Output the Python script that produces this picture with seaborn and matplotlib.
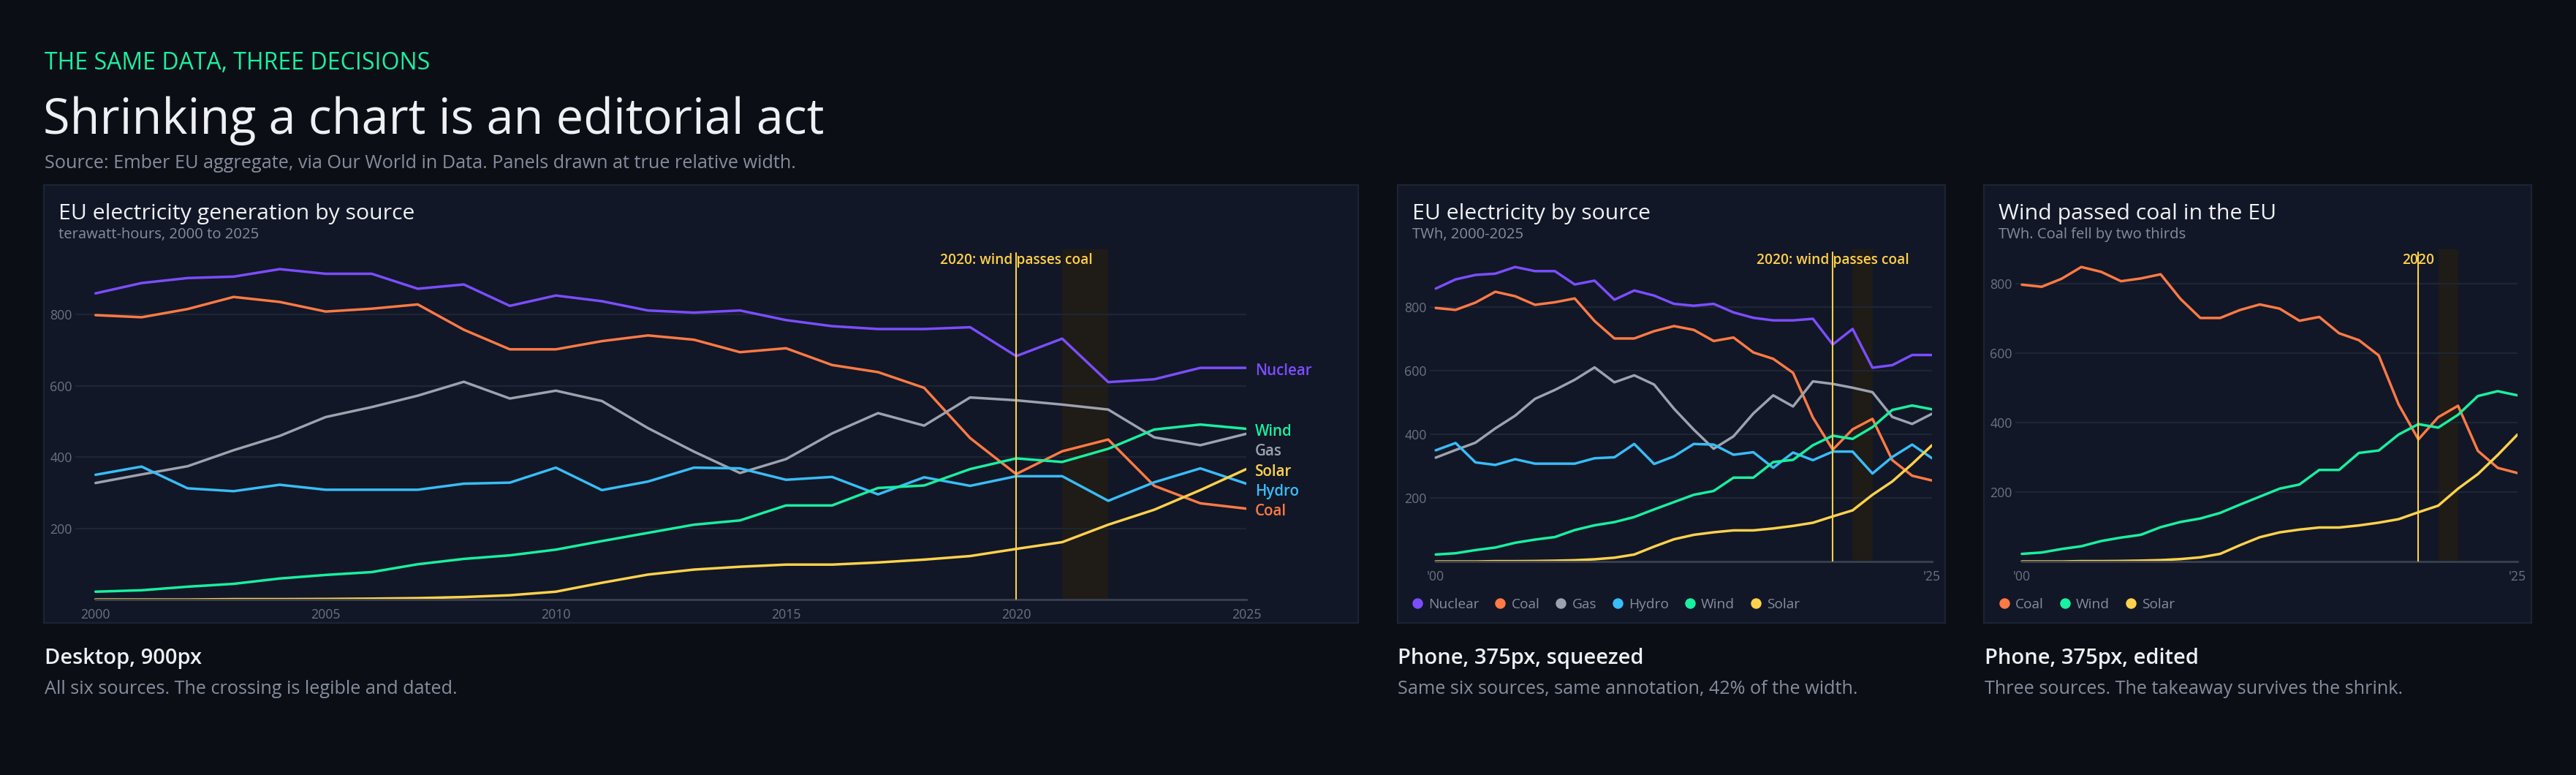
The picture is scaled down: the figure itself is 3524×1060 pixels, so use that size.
import matplotlib
matplotlib.use("Agg")
import matplotlib.pyplot as plt
from matplotlib.patches import Rectangle
from matplotlib.lines import Line2D
import seaborn as sns
import pandas as pd

# --- data (TWh, EU) ---
years = list(range(2000, 2026))
nuclear = [859, 888, 902, 906, 927, 914, 914, 872, 884, 824, 853, 837, 811, 805,
           811, 784, 767, 759, 759, 764, 683, 732, 610, 618, 650, 650]
coal = [798, 792, 815, 849, 835, 808, 816, 828, 757, 702, 702, 725, 741, 729,
        694, 705, 658, 638, 594, 453, 352, 416, 449, 319, 270, 255]
gas = [327, 351, 374, 419, 459, 512, 540, 572, 611, 564, 586, 557, 481, 415,
       355, 394, 466, 523, 488, 567, 559, 547, 533, 455, 433, 465]
hydro = [350, 373, 312, 304, 322, 308, 308, 308, 325, 328, 370, 307, 331, 370,
         368, 336, 344, 295, 343, 319, 346, 346, 277, 329, 368, 325]
wind = [22, 26, 36, 44, 59, 69, 77, 99, 114, 124, 140, 164, 187, 210,
        222, 264, 264, 313, 320, 366, 396, 386, 423, 477, 491, 479]
solar = [0, 0, 0, 1, 1, 1.5, 2.5, 4, 7, 12, 22, 47, 70, 84,
         92, 98, 98, 104, 112, 122, 142, 161, 210, 252, 307, 366]

sources = ["Nuclear", "Coal", "Gas", "Hydro", "Wind", "Solar"]
colors = ["#7c4dff", "#ff7a45", "#9ca3af", "#38bdf8", "#19f0a0", "#ffd24d"]
edited = ["Coal", "Wind", "Solar"]

crossing_year = 2020
band_years = (2021, 2022)
yticks = [200, 400, 600, 800]

df = pd.DataFrame({"year": years * 6,
                   "twh": nuclear + coal + gas + hydro + wind + solar,
                   "source": [s for s in sources for _ in years]})
palette = dict(zip(sources, colors))

# --- style ---
BG = "#0b0e15"
PANEL = "#111726"
BORDER = "#1c2332"
GRID = "#1e2534"
TICK = "#6b7280"
SUB = "#858d9d"
TITLE = "#eef0f4"
KICKER = "#1af0a0"
ANNOT = "#ffcf4a"
BAND = "#1f1b16"
AXIS = "#3a4150"

sns.set_style("dark")
plt.rcParams["font.family"] = ["Open Sans", "DejaVu Sans"]

W, H = 3524, 1060
fig = plt.figure(figsize=(W / 200, H / 200), dpi=200, facecolor=BG)


def fx(x):
    return x / W


def fy(y):
    return 1 - y / H


def panel_box(x0, x1):
    fig.patches.append(Rectangle((fx(x0), fy(852)), fx(x1 - x0), (852 - 253) / H,
                                 transform=fig.transFigure, facecolor=PANEL,
                                 edgecolor=BORDER, lw=0.8, zorder=-1))


def make_axes(left, right, top, bottom, x_lo):
    ax = fig.add_axes([fx(left), fy(bottom), fx(right - left), (bottom - top) / H])
    ax.set_facecolor("none")
    ax.set_xlim(x_lo, 2025)
    for s in ["top", "right", "left"]:
        ax.spines[s].set_visible(False)
    ax.spines["bottom"].set_color(AXIS)
    ax.spines["bottom"].set_linewidth(1.0)
    ax.spines["bottom"].set_bounds(2000, 2025)
    ax.set_yticks(yticks)
    ax.yaxis.grid(True, color=GRID, lw=0.8)
    ax.xaxis.grid(False)
    ax.tick_params(length=0, labelsize=6.4, labelcolor=TICK)
    ax.tick_params(axis="x", pad=4.5)
    ax.tick_params(axis="y", pad=1.5)
    return ax


def annotate_crossing(ax, label, frac):
    ax.axvspan(*band_years, color=BAND, lw=0, zorder=0.5)
    ax.axvline(crossing_year, ymax=0.99, color=ANNOT, lw=0.75, zorder=4)
    ax.text(crossing_year, frac, label, transform=ax.get_xaxis_transform(),
            ha="center", va="baseline", color=ANNOT, fontsize=6.9,
            fontweight="semibold", zorder=3)


# --- header ---
fig.text(fx(61), fy(95), "THE SAME DATA, THREE DECISIONS", color=KICKER,
         fontsize=11.5, va="baseline")
fig.text(fx(59), fy(183), "Shrinking a chart is an editorial act", color=TITLE,
         fontsize=24, va="baseline")
fig.text(fx(61), fy(230), "Source: Ember EU aggregate, via Our World in Data. "
         "Panels drawn at true relative width.", color=SUB, fontsize=9.1,
         va="baseline")

# --- panel 1: desktop ---
panel_box(60, 1858)
ax1 = make_axes(103, 1705, 341, 820, 1999.56)
sns.lineplot(data=df, x="year", y="twh", hue="source", hue_order=sources,
             palette=palette, lw=1.25, legend=False, ax=ax1, zorder=2)
ax1.set_ylim(0, df["twh"].max() * 1.06)
ax1.set_xticks(range(2000, 2026, 5))
ax1.set_xlabel("")
ax1.set_ylabel("")
annotate_crossing(ax1, "2020: wind passes coal", 0.958)

# end labels, pushed apart top-down so they do not collide
ends = sorted(((df[df.source == s].twh.iloc[-1], s) for s in sources), reverse=True)
prev = None
for val, s in ends:
    pos = val if prev is None else min(val, prev - 55)
    prev = pos
    ax1.annotate(s, (2025, pos), xytext=(4.3, -1.5), textcoords="offset points",
                 va="center", ha="left", color=palette[s], fontsize=7.4,
                 fontweight="semibold", annotation_clip=False)

fig.text(fx(80), fy(300), "EU electricity generation by source", color=TITLE,
         fontsize=10.9, va="baseline")
fig.text(fx(80), fy(326), "terawatt-hours, 2000 to 2025", color=SUB,
         fontsize=7.3, va="baseline")


# --- phone panels ---
def phone_panel(x0, x1, ax_left, ax_right, x_lo, subset, title, subtitle,
                annot, legend_x):
    panel_box(x0, x1)
    ax = make_axes(ax_left, ax_right, 341, 768, x_lo)
    d = df[df.source.isin(subset)]
    sns.lineplot(data=d, x="year", y="twh", hue="source", hue_order=subset,
                 palette=palette, lw=1.25, legend=False, ax=ax, zorder=2)
    ax.set_ylim(0, d["twh"].max() * 1.06)
    ax.set_xticks([2000, 2025])
    ax.set_xticklabels(["'00", "'25"])
    ax.set_xlabel("")
    ax.set_ylabel("")
    annotate_crossing(ax, annot, 0.953)
    fig.text(fx(x0 + 20), fy(300), title, color=TITLE, fontsize=10.9, va="baseline")
    fig.text(fx(x0 + 20), fy(326), subtitle, color=SUB, fontsize=7.3, va="baseline")
    handles = [Line2D([], [], marker="o", ls="", markersize=5.2,
                      markerfacecolor=palette[s], markeredgewidth=0) for s in subset]
    fig.legend(handles, subset, loc="center left",
               bbox_to_anchor=(fx(legend_x), fy(827)), ncol=len(subset),
               frameon=False, fontsize=6.9, labelcolor=SUB, borderpad=0,
               borderaxespad=0, handlelength=0.8, handletextpad=0.4,
               columnspacing=1.1)
    return ax


phone_panel(1912, 2661, 1956, 2643, 1999.7, sources, "EU electricity by source",
            "TWh, 2000-2025", "2020: wind passes coal", 1931)
phone_panel(2714, 3463, 2757, 3444, 1999.67, edited, "Wind passed coal in the EU",
            "TWh. Coal fell by two thirds", "2020", 2734)

# --- captions ---
captions = [(61, "Desktop, 900px", "All six sources. The crossing is legible and dated."),
            (1912, "Phone, 375px, squeezed",
             "Same six sources, same annotation, 42% of the width."),
            (2715, "Phone, 375px, edited", "Three sources. The takeaway survives the shrink.")]
for x, head, sub in captions:
    fig.text(fx(x), fy(908), head, color=TITLE, fontsize=10.5,
             fontweight="semibold", va="baseline")
    fig.text(fx(x), fy(949), sub, color=SUB, fontsize=9.1, va="baseline")

fig.savefig("out.png", dpi=200, facecolor=BG)
